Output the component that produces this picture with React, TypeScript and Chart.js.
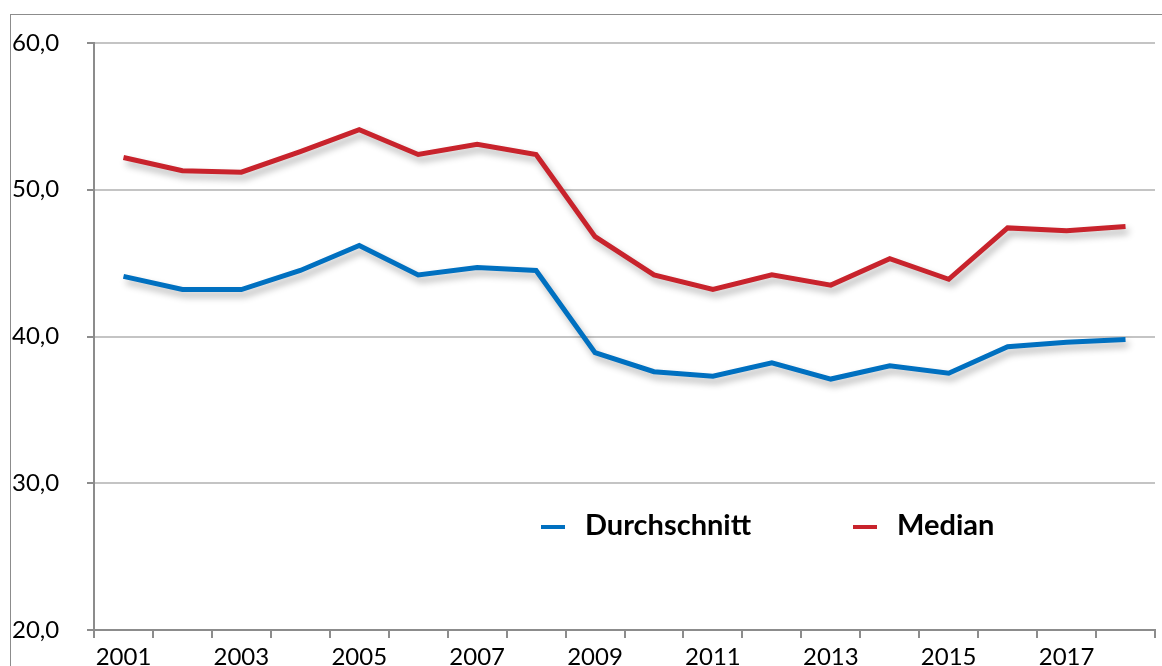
import React, { useEffect, useRef } from "react";
import { Chart, registerables } from "chart.js";

Chart.register(...registerables);

const years = ["2001","2002","2003","2004","2005","2006","2007","2008","2009","2010","2011","2012","2013","2014","2015","2016","2017","2018"];
const durchschnitt = [44.1,43.2,43.2,44.5,46.2,44.2,44.7,44.5,38.9,37.6,37.3,38.2,37.1,38.0,37.5,39.3,39.6,39.8];
const median = [52.2,51.3,51.2,52.6,54.1,52.4,53.1,52.4,46.8,44.2,43.2,44.2,43.5,45.3,43.9,47.4,47.2,47.5];
const seriesNames = ["Durchschnitt", "Median"];
const yTicks = [20, 30, 40, 50, 60];

const BLUE = "#0070C0";
const RED = "#C8232C";
const FONT = "Lato, 'Open Sans', sans-serif";

const shadowPlugin = {
  id: "lineShadow",
  beforeDatasetDraw(chart: any) {
    const ctx = chart.ctx;
    ctx.save();
    ctx.shadowColor = "rgba(0,0,0,0.3)";
    ctx.shadowBlur = 7;
    ctx.shadowOffsetX = 3;
    ctx.shadowOffsetY = 5;
  },
  afterDatasetDraw(chart: any) {
    chart.ctx.restore();
  },
};

const framePlugin = {
  id: "frame",
  beforeDraw(chart: any) {
    const ctx = chart.ctx;
    ctx.save();
    ctx.strokeStyle = "#8c8c8c";
    ctx.lineWidth = 1;
    ctx.strokeRect(10.5, 14.5, chart.width + 20, chart.height + 20);
    ctx.restore();
  },
};

const innerLegendPlugin = {
  id: "innerLegend",
  afterDraw(chart: any) {
    const ctx = chart.ctx;
    const positions = [541, 853];
    const y = 527;
    ctx.save();
    chart.data.datasets.forEach((ds: any, i: number) => {
      const x = positions[i];
      ctx.strokeStyle = ds.borderColor;
      ctx.lineWidth = 4;
      ctx.beginPath();
      ctx.moveTo(x, y);
      ctx.lineTo(x + 24, y);
      ctx.stroke();
      ctx.fillStyle = "#000";
      ctx.font = `bold 29px ${FONT}`;
      ctx.textBaseline = "middle";
      ctx.textAlign = "left";
      ctx.fillText(ds.label, x + 44, y - 1);
    });
    ctx.restore();
  },
};

export default function App() {
  const ref = useRef<HTMLCanvasElement | null>(null);

  useEffect(() => {
    if (!ref.current) return;
    const chart = new Chart(ref.current, {
      type: "line",
      data: {
        labels: years,
        datasets: [
          {
            label: seriesNames[0],
            data: durchschnitt,
            borderColor: BLUE,
            backgroundColor: BLUE,
            borderWidth: 5,
            pointRadius: 0,
            tension: 0,
          },
          {
            label: seriesNames[1],
            data: median,
            borderColor: RED,
            backgroundColor: RED,
            borderWidth: 5,
            pointRadius: 0,
            tension: 0,
          },
        ],
      },
      options: {
        animation: false,
        responsive: false,
        layout: { padding: { left: 12, right: 7, top: 43, bottom: 0 } },
        plugins: {
          legend: { display: false },
          tooltip: { enabled: false },
        },
        scales: {
          x: {
            offset: true,
            grid: {
              offset: true,
              drawOnChartArea: false,
              drawTicks: true,
              tickLength: 8,
              color: "#8c8c8c",
              lineWidth: 2,
            },
            border: { color: "#8c8c8c", width: 2 },
            ticks: {
              autoSkip: false,
              maxRotation: 0,
              padding: 5,
              color: "#000",
              font: { family: FONT, size: 24 },
              callback: (_v: any, i: number) => (i % 2 === 0 ? years[i] : ""),
            },
            afterFit: (scale: any) => {
              scale.height = 36;
            },
          },
          y: {
            min: 20,
            max: 60,
            afterBuildTicks: (scale: any) => {
              scale.ticks = yTicks.map((v) => ({ value: v }));
            },
            grid: {
              color: "#c4c4c4",
              lineWidth: 2,
              tickColor: "#8c8c8c",
              tickLength: 7,
            },
            border: { color: "#8c8c8c", width: 2 },
            ticks: {
              color: "#000",
              crossAlign: "far",
              padding: 4,
              font: { family: FONT, size: 24 },
              callback: (v: any) => Number(v).toFixed(1).replace(".", ","),
            },
            afterFit: (scale: any) => {
              scale.width = 82;
            },
          },
        },
      },
      plugins: [framePlugin, shadowPlugin, innerLegendPlugin],
    });
    return () => chart.destroy();
  }, []);

  return (
    <div style={{ position: "fixed", left: 0, top: 0, width: 1162, height: 666, background: "#fff" }}>
      <canvas ref={ref} width={1162} height={666} style={{ display: "block" }} />
    </div>
  );
}
